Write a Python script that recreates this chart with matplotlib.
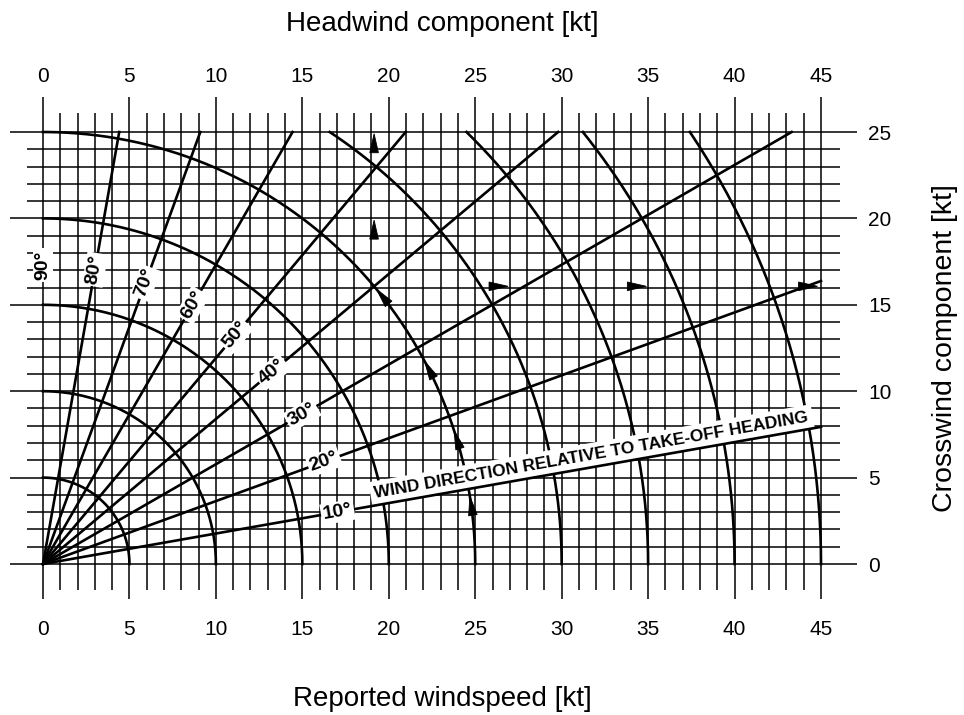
import numpy as np
import matplotlib.pyplot as plt
from matplotlib.patches import Polygon

plt.rcParams["font.family"] = ["Liberation Sans", "DejaVu Sans"]

# chart data
wind_speeds = [5, 10, 15, 20, 25, 30, 35, 40, 45]        # kt, arcs
wind_angles = [10, 20, 30, 40, 50, 60, 70, 80, 90]       # deg, radial lines
headwind_ticks = [0, 5, 10, 15, 20, 25, 30, 35, 40, 45]
crosswind_ticks = [0, 5, 10, 15, 20, 25]
x_max, y_max = 45, 25

# worked example: 25 kt at 40 deg
example_speed = 25
example_angle = 40
arc_arrow_angles = [9, 18, 28, 39.5]      # arrow tips along the 25 kt arc
up_arrow_tips = [19.9, 24.9]             # crosswind read-off arrows
right_arrow_tips = [26.9, 34.9, 44.8]    # headwind read-off arrows

label_radius = 17.3
banner_text = "WIND DIRECTION RELATIVE TO TAKE-OFF HEADING"


def draw_arrow(ax, tip, direction, length=1.1, width=0.5):
    d = np.asarray(direction, float)
    d /= np.hypot(*d)
    n = np.array([-d[1], d[0]])
    tip = np.asarray(tip, float)
    base = tip - d * length
    pts = [tip, base + n * width / 2, base - n * width / 2]
    ax.add_patch(Polygon(pts, closed=True, facecolor="black",
                         edgecolor="black", lw=0.6, zorder=4, clip_on=False))


fig = plt.figure(figsize=(9.64, 7.15), dpi=100)
ax = fig.add_axes([43 / 964, 151 / 715, 778 / 964, 432 / 715])
ax.set_xlim(0, x_max)
ax.set_ylim(0, y_max)
for s in ax.spines.values():
    s.set_visible(False)

# 1 kt grid, longer strokes every 5 kt
for x in range(0, x_max + 1):
    major = x % 5 == 0
    ax.vlines(x, -2.0 if major else -1.5, 27.0 if major else 26.1,
              color="black", lw=1.1, zorder=1, clip_on=False)
for y in range(0, y_max + 1):
    major = y % 5 == 0
    ax.hlines(y, -1.9 if major else -0.9, 47.1 if major else 46.1,
              color="black", lw=1.1, zorder=1, clip_on=False)

# wind speed arcs
for r in wind_speeds:
    top = np.degrees(np.arcsin(min(1.0, y_max / r)))
    th = np.radians(np.linspace(0, top, 200))
    ax.plot(r * np.cos(th), r * np.sin(th), color="black", lw=1.9,
            zorder=2, clip_on=False)

# direction lines and their labels
for a in wind_angles:
    t = np.radians(a)
    if a < 90:
        end = min(x_max / np.cos(t), y_max / np.sin(t))
        ax.plot([0, end * np.cos(t)], [0, end * np.sin(t)], color="black",
                lw=1.9, zorder=3, clip_on=False)
    ax.text(label_radius * np.cos(t), label_radius * np.sin(t), f"{a}°",
            rotation=a, rotation_mode="anchor", ha="center", va="center",
            fontsize=14, fontweight="bold", zorder=5,
            bbox=dict(boxstyle="square,pad=0.1", fc="white", ec="none"))

# banner along the 10 deg line
t10 = np.radians(10)
r0, off = 19.6, 0.45
ax.text(r0 * np.cos(t10) - off * np.sin(t10), r0 * np.sin(t10) + off * np.cos(t10),
        banner_text, rotation=10, rotation_mode="anchor", ha="left",
        va="baseline", fontsize=12.5, fontweight="bold", zorder=2.5,
        bbox=dict(boxstyle="square,pad=0.25", fc="white", ec="none"))

# worked example arrows
for a in arc_arrow_angles:
    t = np.radians(a)
    draw_arrow(ax, (example_speed * np.cos(t), example_speed * np.sin(t)),
               (-np.sin(t), np.cos(t)))
te = np.radians(example_angle)
ex_x = example_speed * np.cos(te)
ex_y = example_speed * np.sin(te)
for y in up_arrow_tips:
    draw_arrow(ax, (ex_x, y), (0, 1))
for x in right_arrow_tips:
    draw_arrow(ax, (x, ex_y), (1, 0))

# axis labels
ax.set_xticks(headwind_ticks)
ax.tick_params(axis="x", length=0, labelsize=15, pad=40)
top = ax.secondary_xaxis("top")
top.set_xticks(headwind_ticks)
top.tick_params(axis="x", length=0, labelsize=15, pad=33)
for s in top.spines.values():
    s.set_visible(False)

ax.set_yticks(crosswind_ticks)
ax.yaxis.tick_right()
ax.tick_params(axis="y", length=0, labelsize=15, pad=34)

ax.text(23.1, 30.85, "Headwind component [kt]", ha="center", va="baseline",
        fontsize=20, clip_on=False)
ax.text(23.1, -8.2, "Reported windspeed [kt]", ha="center", va="baseline",
        fontsize=20, clip_on=False)
ax.text(52.2, 12.5, "Crosswind component [kt]", ha="center", va="center",
        rotation=90, fontsize=20.5, clip_on=False)

fig.savefig("out.png", dpi=100, facecolor="white")
